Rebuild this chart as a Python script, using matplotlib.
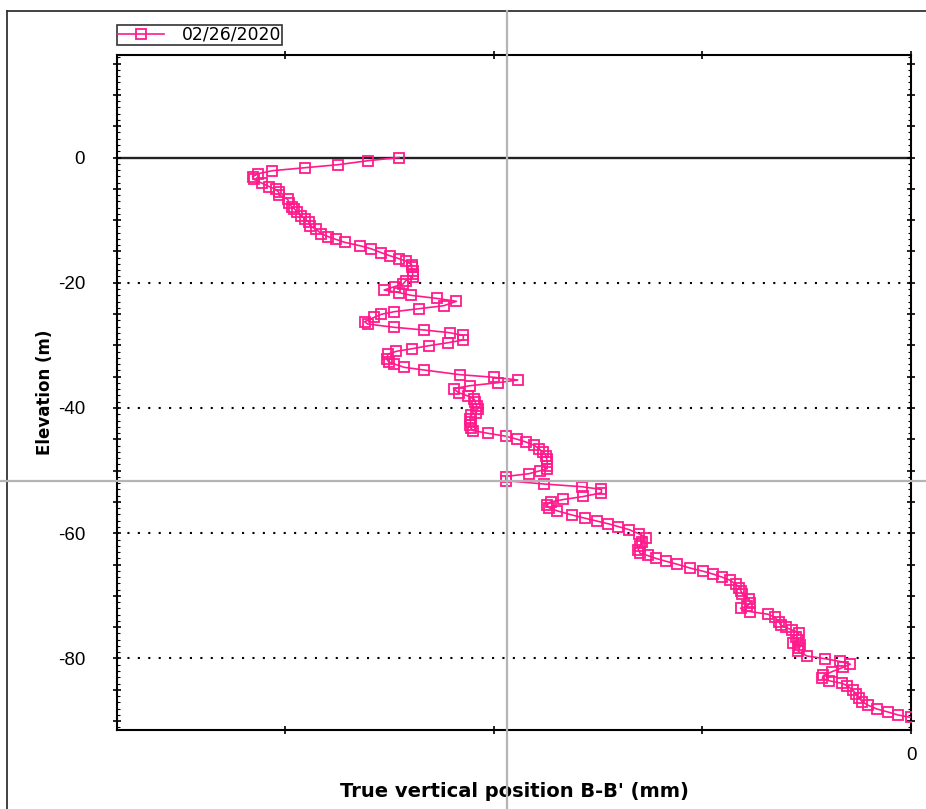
import matplotlib.pyplot as plt
from matplotlib.lines import Line2D
from matplotlib.ticker import MultipleLocator, FuncFormatter

plt.rcParams['font.family'] = ['Liberation Sans', 'DejaVu Sans']
plt.rcParams['axes.unicode_minus'] = False

# inclinometer reading, true vertical position (mm) against elevation (m)
survey_label = "02/26/2020"
elevation = [
    0.0, -0.51, -1.15, -1.63, -2.11, -2.59, -3.07, -3.48, -4.12, -4.66,
    -5.08, -5.56, -5.99, -6.67, -7.22, -7.86, -8.18, -8.70, -9.29, -9.77,
    -10.30, -10.94, -11.47, -12.17, -12.65, -13.06, -13.54, -14.08, -14.56, -15.20,
    -15.68, -16.16, -16.53, -17.12, -17.53, -18.08, -18.60, -19.13, -19.64, -20.20,
    -20.60, -21.16, -21.59, -22.00, -22.51, -22.96, -23.66, -24.14, -24.62, -25.04,
    -25.52, -26.22, -26.59, -27.11, -27.54, -27.98, -28.42, -29.14, -29.57, -30.05,
    -30.53, -30.95, -31.38, -32.18, -32.61, -32.97, -33.50, -33.93, -34.68, -35.10,
    -35.53, -35.96, -36.44, -36.92, -37.56, -38.08, -38.61, -39.09, -39.68, -40.21,
    -40.75, -41.17, -41.71, -42.24, -42.71, -43.24, -43.62, -44.04, -44.52, -45.00,
    -45.43, -45.96, -46.55, -47.07, -47.62, -48.14, -48.67, -49.26, -49.69, -50.01,
    -50.49, -50.94, -51.61, -52.14, -52.57, -53.01, -53.54, -54.13, -54.61, -55.01,
    -55.49, -55.92, -56.42, -57.09, -57.60, -58.04, -58.49, -58.95, -59.43, -60.09,
    -60.68, -61.43, -62.04, -62.63, -63.20, -63.55, -64.03, -64.46, -64.94, -65.58,
    -66.08, -66.54, -67.02, -67.53, -68.15, -68.70, -69.22, -69.75, -70.50, -71.11,
    -71.62, -71.98, -72.50, -72.94, -73.42, -74.22, -74.65, -75.05, -75.45, -75.88,
    -76.61, -77.09, -77.48, -77.88, -78.37, -78.88, -79.60, -80.05, -80.48, -80.91,
    -81.41, -82.11, -82.71, -83.16, -83.55, -83.96, -84.36, -85.11, -85.72, -86.26,
    -86.91, -87.46, -88.06, -88.55, -89.02, -89.42,
]
position = [
    -24.53, -26.03, -27.47, -29.04, -30.62, -31.30, -31.56, -31.50, -31.10, -30.76,
    -30.46, -30.30, -30.30, -29.88, -29.82, -29.69, -29.56, -29.42, -29.24, -29.07,
    -28.87, -28.81, -28.51, -28.27, -27.93, -27.58, -27.15, -26.43, -25.89, -25.39,
    -24.99, -24.54, -24.22, -23.94, -23.94, -23.89, -23.89, -23.89, -24.21, -24.35,
    -24.74, -25.25, -24.53, -23.97, -22.71, -21.79, -22.39, -23.59, -24.77, -25.39,
    -25.73, -26.19, -26.05, -24.78, -23.35, -22.10, -21.46, -21.46, -22.18, -23.11,
    -23.91, -24.67, -25.07, -25.13, -25.04, -24.77, -24.30, -23.35, -21.62, -19.98,
    -18.85, -19.80, -21.14, -21.93, -21.68, -21.24, -20.93, -20.89, -20.82, -20.77,
    -20.85, -21.11, -21.14, -21.11, -21.14, -21.09, -20.98, -20.28, -19.40, -18.87,
    -18.46, -18.06, -17.82, -17.63, -17.50, -17.46, -17.44, -17.44, -17.44, -17.77,
    -18.31, -19.42, -19.42, -17.58, -15.77, -14.84, -14.84, -15.70, -16.66, -17.28,
    -17.46, -17.35, -16.97, -16.25, -15.63, -15.07, -14.51, -14.03, -13.51, -13.04,
    -12.69, -12.88, -13.01, -13.07, -12.99, -12.63, -12.22, -11.76, -11.22, -10.57,
    -9.95, -9.47, -9.05, -8.66, -8.39, -8.23, -8.15, -8.08, -7.77, -7.71,
    -7.85, -8.17, -7.74, -6.85, -6.52, -6.32, -6.25, -5.99, -5.70, -5.37,
    -5.49, -5.43, -5.67, -5.30, -5.35, -5.40, -4.99, -4.10, -3.39, -2.91,
    -3.25, -3.79, -4.20, -4.25, -3.94, -3.31, -3.05, -2.77, -2.62, -2.51,
    -2.34, -2.06, -1.64, -1.10, -0.62, 0.0,
]
grid_levels = [-20, -40, -60, -80]

pink = '#ff1a8c'

fig = plt.figure(figsize=(9.26, 8.09), dpi=100)
ax = fig.add_axes([117 / 926, 1 - 730 / 809, 794 / 926, 675 / 809])

ax.axhline(0, color='#222222', lw=1.7, zorder=1)
for lev in grid_levels:
    ax.axhline(lev, color='black', lw=1.5, linestyle=(0, (1, 4)), zorder=1)

line, = ax.plot(position, elevation, color=pink, lw=1.2, marker='s', ms=7,
                mfc='none', mec=pink, mew=1.3, label=survey_label, zorder=3)

ax.set_xlim(-38.06, 0)
ax.set_ylim(-91.42, 16.37)

ax.xaxis.set_major_locator(MultipleLocator(10))
ax.xaxis.set_major_formatter(FuncFormatter(lambda v, p: "0" if abs(v) < 1e-9 else ""))
ax.yaxis.set_major_locator(MultipleLocator(5))
ax.yaxis.set_minor_locator(MultipleLocator(1))
ax.yaxis.set_major_formatter(FuncFormatter(lambda v, p: f"{v:.0f}" if abs(v) % 20 < 1e-9 else ""))

ax.tick_params(axis='both', which='major', direction='inout', length=6, width=1.2,
               labelsize=13.5, top=True, right=True)
ax.tick_params(axis='y', which='minor', direction='in', length=2, width=0.8, right=True, left=True)
ax.tick_params(axis='y', which='major', pad=20)
ax.tick_params(axis='x', which='major', pad=9)

for sp in ax.spines.values():
    sp.set_linewidth(1.5)
    sp.set_color('black')

ax.set_xlabel("True vertical position B-B' (mm)", family='DejaVu Sans', fontsize=14,
              fontweight='bold', labelpad=13)
ax.set_ylabel("Elevation (m)", family='DejaVu Sans', fontsize=12, fontweight='bold', labelpad=3)

leg = fig.legend(handles=[line], loc='upper left', bbox_to_anchor=(117 / 926, 1 - 25 / 809),
                 prop={'family': 'DejaVu Sans', 'size': 12.4}, frameon=True, fancybox=False,
                 borderpad=0.05, handlelength=2.7, handletextpad=1.0, borderaxespad=0)
leg.get_frame().set_edgecolor('black')
leg.get_frame().set_linewidth(1.2)

# outer frame and cursor cross lines
fig.add_artist(Line2D([7 / 926, 7 / 926], [0, 1 - 11 / 809], color='#333333', lw=1.3))
fig.add_artist(Line2D([7 / 926, 1], [1 - 11 / 809, 1 - 11 / 809], color='#333333', lw=1.3))
fig.add_artist(Line2D([507 / 926, 507 / 926], [0, 1 - 11 / 809], color='#b4b4b4', lw=1.6))
fig.add_artist(Line2D([0, 1], [1 - 481 / 809, 1 - 481 / 809], color='#b4b4b4', lw=1.6))

fig.savefig('out.png', dpi=100)
